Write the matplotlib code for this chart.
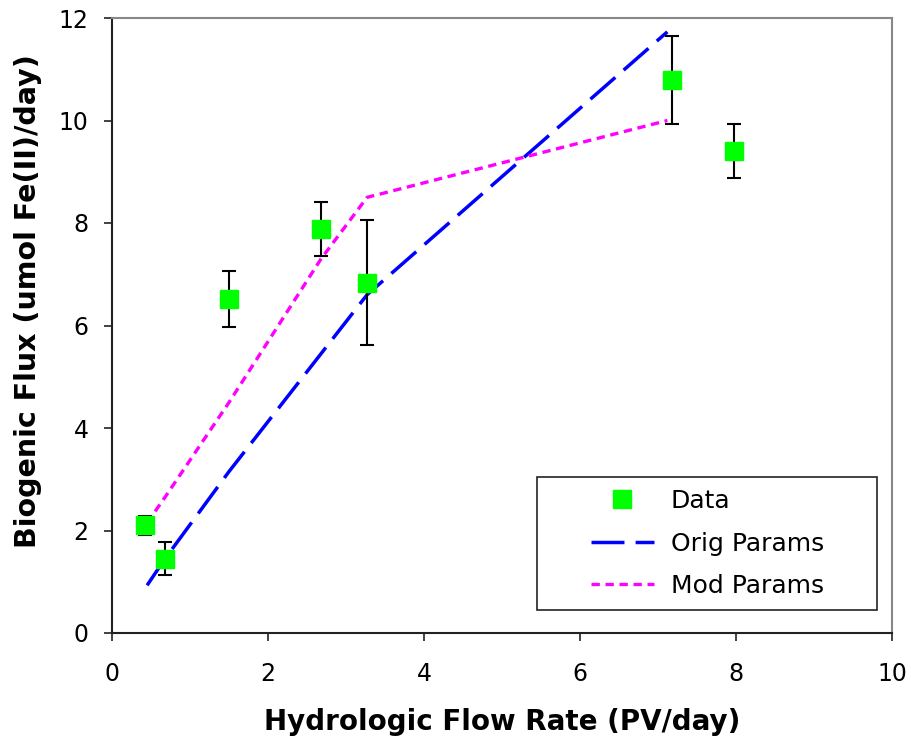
import numpy as np
import matplotlib
matplotlib.use('Agg')
import matplotlib.pyplot as plt
import matplotlib.patches as patches

# ---- data ----
flow_data = [0.42, 0.68, 1.50, 2.68, 3.27, 7.18, 7.97]
flux_data = [2.10, 1.45, 6.52, 7.88, 6.83, 10.79, 9.40]
flux_err = [0.18, 0.32, 0.55, 0.53, 1.22, 0.85, 0.53]

flow_model = [0.45, 0.68, 1.50, 2.68, 3.27, 7.12]
flux_orig = [0.93, 1.45, 3.15, 5.45, 6.60, 11.73]
flux_mod = [2.15, 2.65, 4.50, 7.30, 8.50, 10.00]

x_ticks = [0, 2, 4, 6, 8, 10]
y_ticks = [0, 2, 4, 6, 8, 10, 12]

plt.rcParams['font.family'] = 'DejaVu Sans'

fig = plt.figure(figsize=(9.11, 7.43), dpi=100)
ax = fig.add_axes([112 / 911, 1 - 633 / 743, 780 / 911, 615 / 743])

# model lines
ax.plot(flow_model, flux_orig, color='#0000FF', lw=2.5,
        dashes=(9.5, 3.2), label='Orig Params', zorder=2)
ax.plot(flow_model, flux_mod, color='#FF00FF', lw=2.4,
        dashes=(2.5, 1.7), label='Mod Params', zorder=2)

# data with error bars
ax.errorbar(flow_data, flux_data, yerr=flux_err, fmt='none',
            ecolor='black', elinewidth=1.5, capsize=5, capthick=1.5, zorder=3)
ax.plot(flow_data, flux_data, ls='none', marker='s', markersize=13,
        markerfacecolor='#00FF00', markeredgecolor='#00FF00',
        label='Data', zorder=4)

ax.set_xlim(0, 10)
ax.set_ylim(0, 12)
ax.set_xticks(x_ticks)
ax.set_yticks(y_ticks)
ax.tick_params(axis='x', direction='out', length=6, width=1.2,
               labelsize=17, pad=15, color='#222222')
ax.tick_params(axis='y', direction='out', length=6, width=1.2,
               labelsize=17, pad=11, color='#222222')

for side in ['left', 'bottom']:
    ax.spines[side].set_color('#222222')
    ax.spines[side].set_linewidth(1.5)
for side in ['top', 'right']:
    ax.spines[side].set_color('#888888')
    ax.spines[side].set_linewidth(1.5)

ax.set_xlabel('Hydrologic Flow Rate (PV/day)', fontsize=20, fontweight='bold')
ax.set_ylabel('Biogenic Flux (umol Fe(II)/day)', fontsize=20.5, fontweight='bold')
ax.xaxis.set_label_coords(0.5, -0.122)
ax.yaxis.set_label_coords(-0.09, 0.54)

# legend: frameless, with a separate rectangle as its box
handles, labels = ax.get_legend_handles_labels()
order = [2, 0, 1]
leg = ax.legend([handles[i] for i in order], [labels[i] for i in order],
                loc='center', bbox_to_anchor=(0.763, 0.1455), frameon=False,
                fontsize=18, handlelength=2.55, handletextpad=0.65,
                labelspacing=0.74)
ax.add_patch(patches.Rectangle((0.545, 0.0374), 0.436, 0.216,
                               transform=ax.transAxes, fill=False,
                               edgecolor='#222222', lw=1.2, zorder=5))

fig.savefig('out.png', dpi=100)
